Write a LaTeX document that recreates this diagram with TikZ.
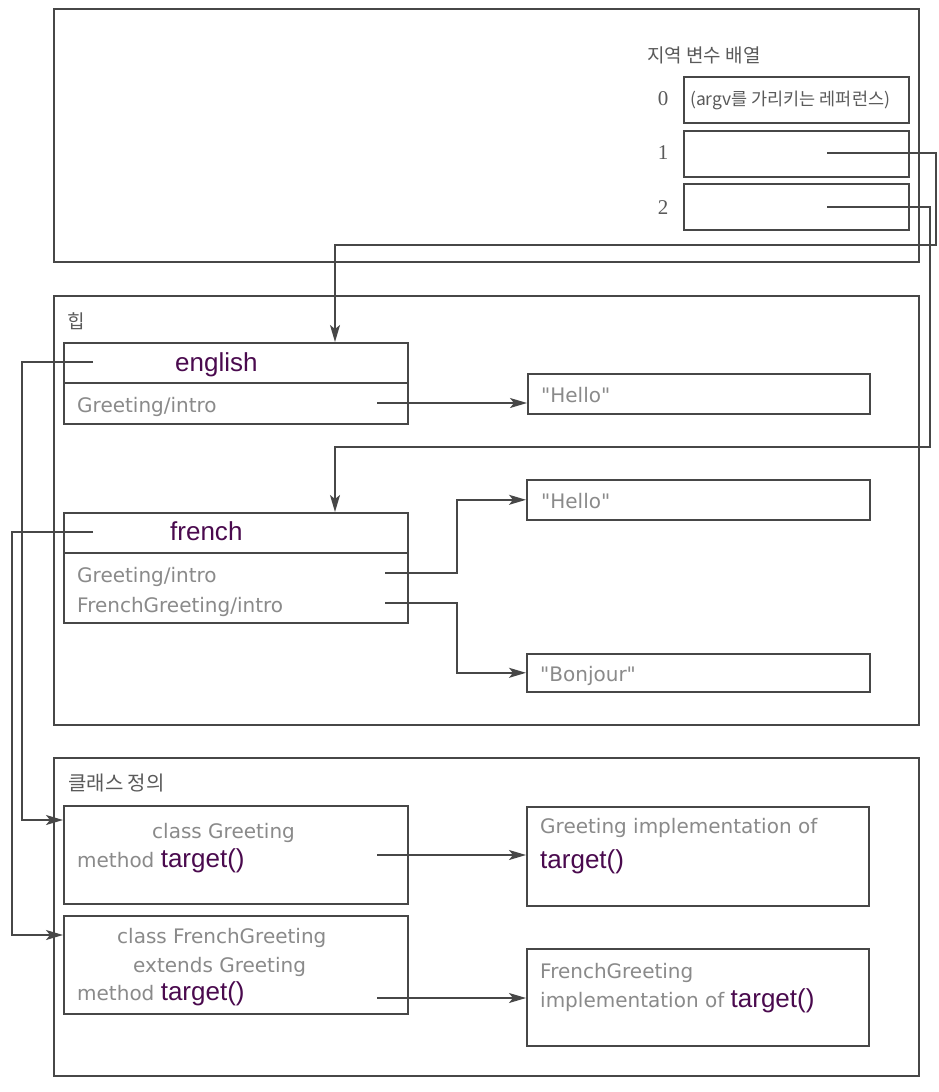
\documentclass[tikz,border=0pt]{standalone}
\usepackage{fontspec}
\setmainfont{Liberation Sans}
\newfontfamily\krfont{Noto Sans CJK KR}
\newfontfamily\grfont{DejaVu Sans}
\newfontfamily\numfont{Liberation Serif}
\usetikzlibrary{arrows.meta}
\definecolor{ln}{HTML}{474747}
\definecolor{gtxt}{HTML}{8A8A8A}
\definecolor{ktxt}{HTML}{5A5A5A}
\definecolor{purp}{HTML}{4A0A4E}
\newcommand{\tg}{\textcolor{purp}{\fontspec{Liberation Sans}\fontsize{26}{30}\selectfont target()}}
\begin{document}
\begin{tikzpicture}[x=1pt,y=-1pt,
  frame/.style={draw=ln, line width=2.2pt, inner sep=0pt, anchor=north west},
  cell/.style={draw=ln, line width=1.6pt, inner sep=0pt, anchor=north west},
  conn/.style={draw=ln, line width=1.5pt},
  arr/.style={conn, -{Stealth[length=17pt,width=10pt,inset=4pt]}},
  gt/.style={text=gtxt, font=\grfont\fontsize{20}{24}\selectfont, inner sep=0pt, anchor=base west},
  kt/.style={text=ktxt, font=\krfont\fontsize{19}{23}\selectfont, inner sep=0pt, anchor=base west},
  pt/.style={text=purp, font=\fontsize{26}{30}\selectfont, inner sep=0pt, anchor=base west},
  nt/.style={text=ktxt, font=\numfont\fontsize{21}{25}\selectfont, inner sep=0pt}
]
\useasboundingbox (0,0) rectangle (938,1092);
\fill[white] (0,0) rectangle (938,1092);

% ---------- frames ----------
\node[frame, minimum width=865pt, minimum height=253pt] (stack) at (53,8) {};
\node[frame, minimum width=865pt, minimum height=429pt] (heap) at (53,295) {};
\node[frame, minimum width=865pt, minimum height=318pt] (classes) at (53,757) {};

% ---------- local variable array ----------
\node[kt, anchor=west] (lvtitle) at (647,55) {지역 변수 배열};
\node[cell, minimum width=225pt, minimum height=46pt] (s0) at (683,76) {};
\node[cell, minimum width=225pt, minimum height=46pt] (s1) at (683,130) {};
\node[cell, minimum width=225pt, minimum height=46pt] (s2) at (683,183) {};
\node[text=ktxt, font=\krfont\fontsize{17.5}{20}\selectfont, inner sep=0pt, anchor=west] (s0t) at (690,100) {(argv를 가리키는 레퍼런스)};
\node[nt] (n0) at (663,99) {0};
\node[nt] (n1) at (663,153) {1};
\node[nt] (n2) at (663,208) {2};
\coordinate (s1p) at (827,153);
\coordinate (s2p) at (827,207);

% ---------- heap ----------
\node[kt] (heaplbl) at (67,328) {힙};
\node[cell, minimum width=344pt, minimum height=81pt] (eng) at (63,342) {};
\draw[cell] (eng.west |- 0,383) -- (eng.east |- 0,383);
\node[pt] (engt) at (175,371) {english};
\node[gt] (engg) at (77,412) {Greeting/intro};
\coordinate (engl) at (93,362);
\coordinate (engr) at (377,403);

\node[cell, minimum width=342pt, minimum height=40pt] (hello1) at (527,373) {};
\node[gt] (hello1t) at (541,402) {"Hello"};

\node[cell, minimum width=344pt, minimum height=110pt] (fr) at (63,512) {};
\draw[cell] (fr.west |- 0,553) -- (fr.east |- 0,553);
\node[pt] (frt) at (170,540) {french};
\node[gt] (frg1) at (77,582) {Greeting/intro};
\node[gt] (frg2) at (77,612) {FrenchGreeting/intro};
\coordinate (frl) at (93,532);
\coordinate (frr1) at (385,573);
\coordinate (frr2) at (385,603);

\node[cell, minimum width=343pt, minimum height=40pt] (hello2) at (526,479) {};
\node[gt] (hello2t) at (541,508) {"Hello"};
\node[cell, minimum width=343pt, minimum height=38pt] (bonjour) at (526,653) {};
\node[gt] (bonjourt) at (540,681) {"Bonjour"};

% ---------- class definitions ----------
\node[kt, font=\krfont\fontsize{20}{24}\selectfont] (classlbl) at (68,790) {클래스 정의};
\node[cell, minimum width=344pt, minimum height=98pt] (cg) at (63,805) {};
\node[gt] (cg1) at (152,838) {class Greeting};
\node[gt] (cg2) at (77,867) {method \tg};
\coordinate (cgr) at (377,855);

\node[cell, minimum width=344pt, minimum height=98pt] (fg) at (63,915) {};
\node[gt] (fg1) at (117,943) {class FrenchGreeting};
\node[gt] (fg2) at (133,972) {extends Greeting};
\node[gt] (fg3) at (77,1000) {method \tg};
\coordinate (fgr) at (377,998);

\node[cell, minimum width=342pt, minimum height=99pt] (gi) at (526,806) {};
\node[gt] (gi1) at (540,833) {Greeting implementation of};
\node[pt] (gi2) at (540,868) {target()};

\node[cell, minimum width=342pt, minimum height=97pt] (fi) at (526,948) {};
\node[gt] (fi1) at (540,978) {FrenchGreeting};
\node[gt] (fi2) at (540,1007) {implementation of \tg};

% ---------- connectors ----------
\draw[arr] (s1p) -- (936,153) |- (335,245) -- ([xshift=272pt]eng.north west);
\draw[arr] (s2p) -| (930,447) -| ([xshift=272pt]fr.north west);
\draw[arr] (engr) -- (hello1.west |- engr);
\draw[arr] (frr1) -- (457,573) |- (hello2.west);
\draw[arr] (frr2) -- (457,603) |- (bonjour.west);
\draw[arr] (cgr) -- (gi.west |- cgr);
\draw[arr] (fgr) -- (fi.west |- fgr);
\draw[arr] (engl) -- (22,362) |- ([yshift=-15pt]cg.north west);
\draw[arr] (frl) -- (12,532) |- ([yshift=-20pt]fg.north west);
\end{tikzpicture}
\end{document}
